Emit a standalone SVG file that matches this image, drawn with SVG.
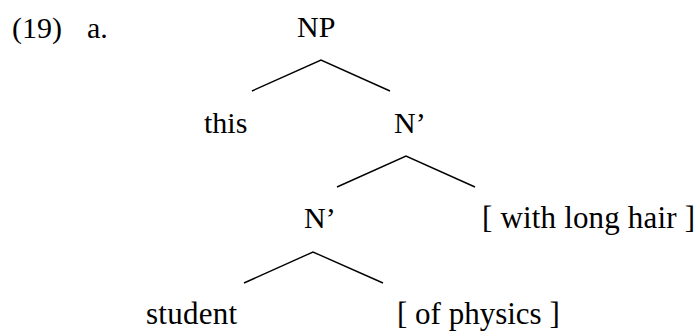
<svg xmlns="http://www.w3.org/2000/svg" width="699" height="331" viewBox="0 0 699 331">
<style>
.t{font-family:'Liberation Serif','Times New Roman',serif;font-size:30px;fill:#000}
.b{font-size:31px}
.e{stroke:#000;stroke-width:1.4;fill:none}
</style>
<rect width="699" height="331" fill="#fff"/>
<g class="t">
<g id="label"><text x="12" y="37.5">(19)</text><text x="87" y="37.5">a.</text></g>
<g id="np"><text x="297" y="36.5">NP</text></g>
<g id="this"><text x="204" y="133">this</text></g>
<g id="nbar1"><text x="394" y="133">N’</text></g>
<g id="nbar2"><text x="304" y="228">N’</text></g>
<g id="with"><text class="b" x="482" y="228" textLength="213">[ with long hair ]</text></g>
<g id="student"><text class="b" x="146" y="323.5" textLength="91">student</text></g>
<g id="physics"><text class="b" x="397" y="323.5">[ of physics ]</text></g>
</g>
<g id="connectors">
<polyline class="e" points="252,91 321,60 390,91"/>
<polyline class="e" points="337,187 406,156 475,187"/>
<polyline class="e" points="244,283 313,252 383,283"/>
</g>
</svg>
